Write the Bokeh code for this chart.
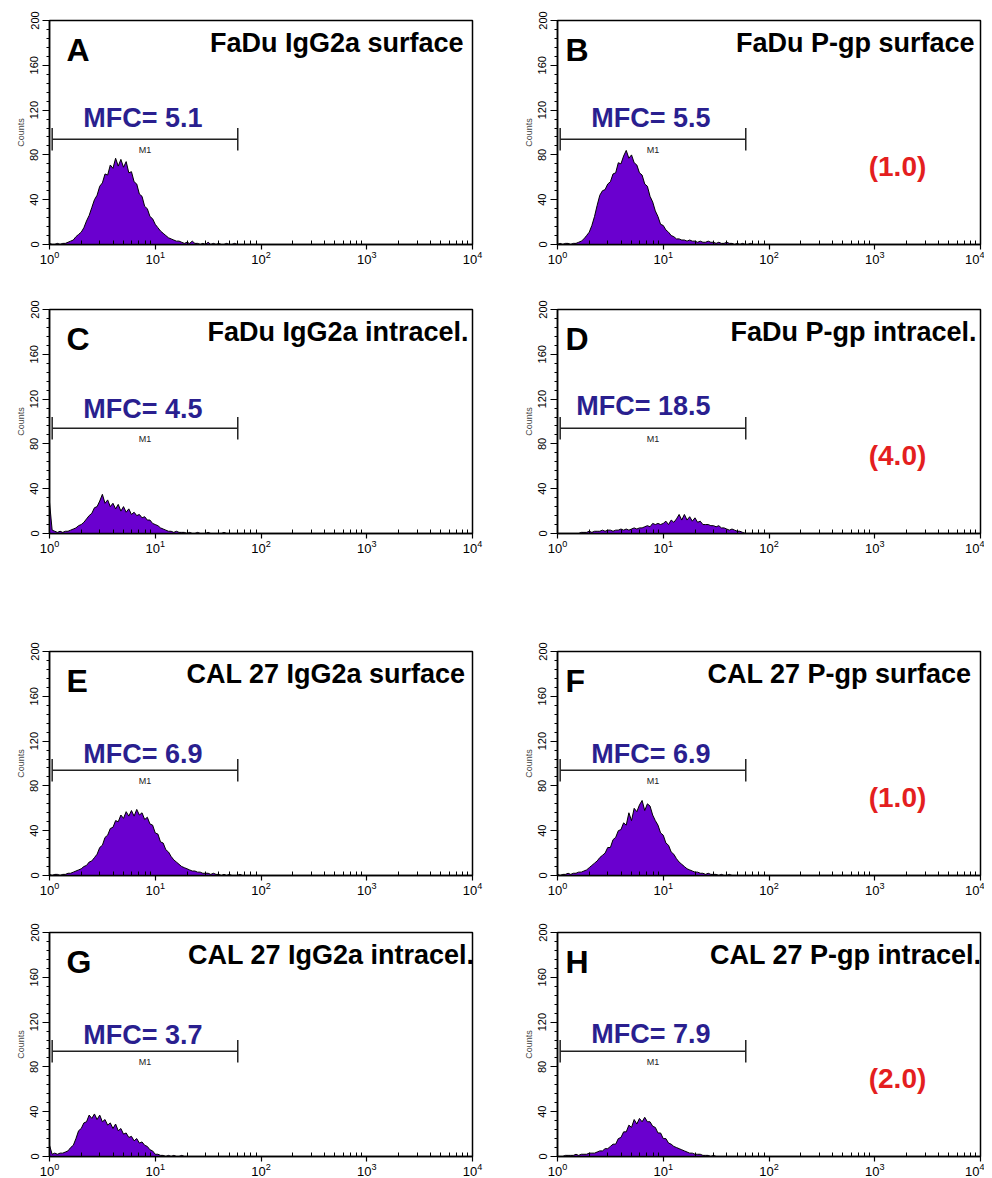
import math
from bokeh.plotting import figure
from bokeh.models import Range1d, Label, FixedTicker
from bokeh.layouts import column, row
from bokeh.embed import file_html
from bokeh.resources import INLINE

# ---------------- data ----------------
# histogram channels (log10 of fluorescence), one every 0.025 decade
log_channels = [round(0.025 * i, 3) for i in range(81)]

counts_A = [1,0,0,1,0,1,1,2,3,4, 7,9,11,15,21,26,33,40,44,52, 55,63,62,71,68,77,70,76,69,74,
            64,65,56,54,45,43,34,32,25,23, 18,15,12,10,8,6,5,4,3,3, 2,1,2,1,3,1,1,0,1,0,
            2,0,1,0,1,0,0,1,0,0, 1,0,0,0,0,0,0,0,0,0, 0]
counts_B = [0,1,0,1,1,0,1,1,2,3, 5,8,11,17,25,35,44,48,49,54, 56,63,64,73,72,79,84,77,80,73,
            71,64,62,54,52,43,38,30,25,18, 17,13,11,8,7,5,5,4,4,3, 4,3,3,2,3,2,2,3,2,2,
            1,2,1,1,2,1,1,0,1,0, 1,0,0,1,0,0,0,0,0,0, 0]
counts_C = [28,3,2,1,2,1,2,2,3,4, 5,7,8,10,13,16,18,23,24,29, 35,27,30,24,27,22,26,20,24,19,
            22,17,19,16,17,14,15,12,12,9, 8,7,5,4,3,2,2,1,2,1, 1,1,0,1,0,0,1,0,0,0,
            1,0,0,0,0,0,1,0,0,0, 0,0,0,0,0,0,0,0,0,0, 0]
counts_D = [0,0,0,0,0,0,0,0,0,1, 1,1,2,1,2,2,2,3,2,3, 3,2,3,3,4,3,4,3,4,5,
            4,5,5,6,7,6,9,8,9,8, 9,11,8,12,10,13,17,12,17,12, 15,11,14,10,11,8,8,8,7,7,
            6,7,5,5,4,3,4,3,2,2, 1,0,0,0,0,0,0,0,0,0, 0]
counts_E = [1,0,1,1,0,1,1,2,2,3, 4,5,6,8,9,12,13,16,19,25, 27,34,36,42,43,49,48,54,51,57,
            53,58,53,59,54,56,50,52,46,45, 38,37,30,29,23,21,17,14,12,10, 8,7,6,5,4,4,3,3,2,2,
            2,1,2,1,1,0,1,0,1,0, 0,0,1,0,0,0,0,0,0,0, 0]
counts_F = [1,0,1,1,2,1,2,2,3,3, 4,5,7,9,11,13,16,18,20,25, 25,32,34,40,41,47,45,56,49,60,
            57,63,67,58,64,62,54,49,45,38, 36,29,27,21,19,15,12,10,8,6, 5,4,3,3,2,2,1,2,1,1,
            1,0,1,0,0,1,0,0,0,0, 0,0,0,0,0,0,0,0,0,0, 0]
counts_G = [10,2,3,2,3,3,4,5,8,10, 16,23,25,30,31,37,34,38,33,37, 31,33,28,30,25,29,23,25,20,21,
            17,18,14,16,12,13,10,9,6,5, 2,2,1,1,0,1,0,1,0,0, 1,0,0,0,0,0,0,0,0,0,
            0,0,0,0,0,0,0,0,0,0, 0,0,0,0,0,0,0,0,0,0, 0]
counts_H = [0,0,0,1,1,1,1,2,1,2, 2,2,3,3,3,4,5,5,7,7, 9,11,11,16,17,22,22,28,26,33,
            29,34,31,35,31,31,27,26,21,21, 16,16,12,11,9,8,7,6,5,4, 3,3,2,2,2,1,1,1,0,1,
            0,0,0,0,0,0,0,0,0,0, 0,0,0,0,0,0,0,0,0,0, 0]

panel_letters = ["A", "B", "C", "D", "E", "F", "G", "H"]
panel_titles = ["FaDu IgG2a surface", "FaDu P-gp surface",
                "FaDu IgG2a intracel.", "FaDu P-gp intracel.",
                "CAL 27 IgG2a surface", "CAL 27 P-gp surface",
                "CAL 27 IgG2a intracel.", "CAL 27 P-gp intracel."]
mfc_values = ["5.1", "5.5", "4.5", "18.5", "6.9", "6.9", "3.7", "7.9"]
ratios = [None, "(1.0)", None, "(4.0)", None, "(1.0)", None, "(2.0)"]
series = [counts_A, counts_B, counts_C, counts_D, counts_E, counts_F, counts_G, counts_H]

m1_gate = [1.06, 60.3]      # M1 marker limits (fluorescence)
m1_level = 94               # counts level of the M1 marker
x_ticks = [1, 10, 100, 1000, 10000]
y_ticks = [0, 40, 80, 120, 160, 200]

# ---------------- style / layout ----------------
FW, FH = 423, 224
DEC = FW / 4.0
PURPLE = "#6A00CF"
NAVY = "#2A1F8F"
RED = "#E41E20"
FONT = "Liberation Sans"

def fx(px):
    return 10 ** (px / DEC)

def fy(px):
    return 200 - px * 200.0 / FH

# (top border, bottom border) per panel
borders = [(20, 35), (20, 35), (26, 64), (30, 60), (58, 28), (58, 28), (28, 15), (29, 14)]
title_right = [9, 6, 4, 4, 7, 9, -2, -1]
mfc_mid = [97.5, 97.5, 99.5, 96, 102, 102, 102, 101]

x_minor = [m * 10 ** d for d in range(4) for m in range(2, 10)]
y_minor = list(range(0, 201, 8))


def make_panel(i):
    col = i % 2
    top, bottom = borders[i]
    p = figure(x_axis_type="log", x_range=Range1d(1, 10000), y_range=Range1d(0, 200),
               frame_width=FW, frame_height=FH, toolbar_location=None, output_backend="svg",
               min_border_left=49 if col == 0 else 41, min_border_right=44 if col == 0 else 4,
               min_border_top=top, min_border_bottom=bottom)
    p.background_fill_color = "white"
    p.border_fill_color = "white"
    p.outline_line_color = "black"
    p.outline_line_width = 1.5
    p.xgrid.visible = False
    p.ygrid.visible = False

    xs = [10 ** v for v in log_channels]
    p.varea(x=xs, y1=[0] * len(xs), y2=series[i], fill_color=PURPLE)
    p.line(xs, series[i], line_color="black", line_width=1)

    # M1 marker
    p.segment(x0=[m1_gate[0], m1_gate[0], m1_gate[1]], y0=[m1_level, m1_level - 10, m1_level - 10],
              x1=[m1_gate[1], m1_gate[0], m1_gate[1]], y1=[m1_level, m1_level + 10, m1_level + 10],
              line_color="#222222", line_width=1.5)
    p.add_layout(Label(x=math.sqrt(m1_gate[0] * m1_gate[1]), y=m1_level - 5, text="M1",
                       text_align="center", text_baseline="top", text_font=FONT,
                       text_font_size="9px", text_color="#222222"))

    # axes
    xa = p.xaxis[0]
    xa.ticker = FixedTicker(ticks=x_ticks, minor_ticks=x_minor)
    xa.major_tick_in = 0
    xa.major_tick_out = 5
    xa.minor_tick_in = 4
    xa.minor_tick_out = 0
    xa.axis_line_width = 1.5
    xa.major_tick_line_width = 1.2
    xa.major_label_text_font = FONT
    xa.major_label_text_font_size = "13px"
    xa.major_label_standoff = 1
    xa.major_label_text_color = "black"

    ya = p.yaxis[0]
    ya.ticker = FixedTicker(ticks=y_ticks, minor_ticks=y_minor)
    ya.major_tick_in = 0
    ya.major_tick_out = 7
    ya.minor_tick_in = 0
    ya.minor_tick_out = 3
    ya.axis_line_width = 1.5
    ya.major_tick_line_width = 1.2
    ya.major_label_orientation = "vertical"
    ya.major_label_text_font = FONT
    ya.major_label_text_font_size = "11px"
    ya.major_label_standoff = 4
    ya.major_label_text_color = "black"
    ya.axis_label = "Counts"
    ya.axis_label_text_font = FONT
    ya.axis_label_text_font_size = "9px"
    ya.axis_label_text_font_style = "normal"
    ya.axis_label_standoff = 2

    # texts
    p.add_layout(Label(x=fx(17 if col == 0 else 8), y=fy(29.5), text=panel_letters[i],
                       text_align="left", text_baseline="middle", text_font=FONT,
                       text_font_size="32px", text_font_style="bold", text_color="black"))
    p.add_layout(Label(x=fx(FW - title_right[i]), y=fy(22), text=panel_titles[i],
                       text_align="right", text_baseline="middle", text_font=FONT,
                       text_font_size="27px", text_font_style="bold", text_color="black"))
    p.add_layout(Label(x=fx(153), y=fy(mfc_mid[i]), text="MFC= " + mfc_values[i],
                       text_align="right", text_baseline="middle", text_font=FONT,
                       text_font_size="27px", text_font_style="bold", text_color=NAVY))
    if ratios[i]:
        p.add_layout(Label(x=fx(340), y=70, text=ratios[i],
                           text_align="center", text_baseline="middle", text_font=FONT,
                           text_font_size="28px", text_font_style="bold", text_color=RED))
    return p


panels = [make_panel(i) for i in range(8)]
layout = column(row(panels[0], panels[1]), row(panels[2], panels[3]),
                row(panels[4], panels[5]), row(panels[6], panels[7]))

open("out.html", "w").write(file_html(layout, INLINE))
